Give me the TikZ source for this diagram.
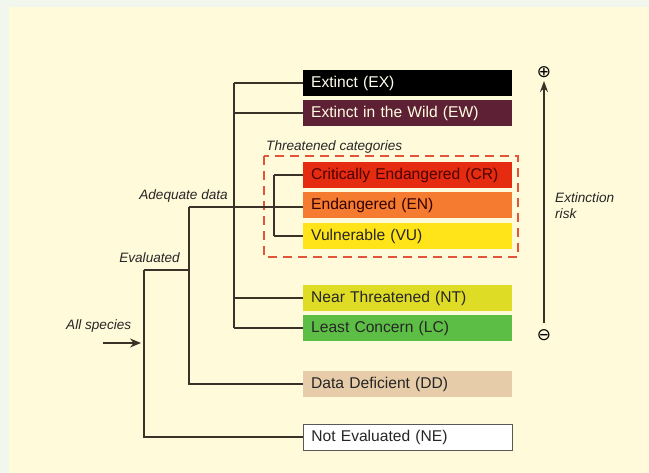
\documentclass[tikz,border=0pt]{standalone}
\usepackage{fontspec}
\setmainfont{Liberation Sans}
\newfontfamily\symfont{DejaVu Sans}
\usetikzlibrary{arrows.meta}
\definecolor{outerbg}{HTML}{F2F7EE}
\definecolor{innerbg}{HTML}{FFFADA}
\definecolor{linec}{HTML}{3A3226}
\definecolor{exc}{HTML}{000000}
\definecolor{ewc}{HTML}{5E2034}
\definecolor{crc}{HTML}{E52B10}
\definecolor{enc}{HTML}{F47B30}
\definecolor{vuc}{HTML}{FFE41A}
\definecolor{ntc}{HTML}{DFDC25}
\definecolor{lcc}{HTML}{5DBE45}
\definecolor{ddc}{HTML}{E6CCA8}
\definecolor{dashc}{HTML}{E0553C}
\begin{document}
\begin{tikzpicture}[x=1pt,y=-1pt,
  cat/.style={minimum width=209pt,minimum height=26pt,inner sep=0pt,
    text width=193pt,align=left,anchor=west,font=\fontsize{15.6}{17}\selectfont},
  lbl/.style={font=\itshape\fontsize{13.6}{15}\selectfont,text=black!85,inner sep=0pt},
  tree/.style={draw=linec,line width=1.4pt}]
  % background
  \fill[outerbg] (0,0) rectangle (649,473);
  \fill[innerbg] (9,7) rectangle (649,473);
  \useasboundingbox (0,0) rectangle (649,473);

  % category boxes
  \node[cat,fill=exc,text={white!92!yellow}] (EX) at (303,83) {Extinct (EX)};
  \node[cat,fill=ewc,text={white!88!yellow}] (EW) at (303,113) {Extinct in the Wild (EW)};
  \node[cat,fill=crc,text={black!70!red}] (CR) at (303,175) {Critically Endangered (CR)};
  \node[cat,fill=enc,text={black!80!red}] (EN) at (303,205) {Endangered (EN)};
  \node[cat,fill=vuc,text=black!85] (VU) at (303,236) {Vulnerable (VU)};
  \node[cat,fill=ntc,text=black!85] (NT) at (303,298) {Near Threatened (NT)};
  \node[cat,fill=lcc,text=black!85] (LC) at (303,328) {Least Concern (LC)};
  \node[cat,fill=ddc,text=black!85] (DD) at (303,384) {Data Deficient (DD)};
  \node[cat,fill=white,draw=black!65,line width=0.8pt,text=black!85] (NE) at (303,437) {Not Evaluated (NE)};

  % threatened group
  \draw[dashc,line width=1.3pt,dash pattern=on 9pt off 6pt] (264,156) rectangle (518,257);
  \node[lbl,anchor=base west] (thr) at (266,151) {Threatened categories};

  % branching points
  \coordinate (adeq) at (234,83);
  \coordinate (adeqb) at (234,328);
  \coordinate (thrt) at (274,175);
  \coordinate (thrb) at (274,236);
  \coordinate (evt) at (189,207);
  \coordinate (evb) at (189,384);
  \coordinate (allt) at (144,270);
  \coordinate (allb) at (144,437);

  % adequate data branch
  \draw[tree] (adeq) -- (adeqb);
  \draw[tree] (adeq) -- (EX.west);
  \draw[tree] (adeq |- EW.west) -- (EW.west);
  \draw[tree] (adeq |- NT.west) -- (NT.west);
  \draw[tree] (adeqb) -- (LC.west);
  \draw[tree] (thrt) -- (thrb);
  \draw[tree] (thrt) -- (CR.west);
  \draw[tree] (thrb) -- (VU.west);
  % evaluated branch
  \draw[tree] (evt) -- (EN.west |- evt);
  \draw[tree] (evt) -- (evb) -- (DD.west);
  % all species
  \draw[tree] (allt) -- (allt -| evt);
  \draw[tree] (allt) -- (allb) -- (NE.west);

  % branch labels
  \node[lbl,anchor=base east] (lad) at (228,200) {Adequate data};
  \node[lbl,anchor=base east] (lev) at (180,263) {Evaluated};
  \node[lbl,anchor=base west] (las) at (66,330) {All species};
  \coordinate (arrs) at (103,343);
  \draw[linec,line width=1.4pt,-{Stealth[length=11pt,width=9pt]}] (arrs) -- (141,343);

  % extinction risk axis
  \node[inner sep=0pt,font=\symfont\fontsize{17}{19}\selectfont] (plus) at (544,72) {⊕};
  \node[inner sep=0pt,font=\symfont\fontsize{17}{19}\selectfont] (minus) at (544,335) {⊖};
  \coordinate (ax) at (544,323);
  \draw[linec,line width=1.4pt,-{Stealth[length=11pt,width=8pt]}] (ax) -- (544,81);
  \node[lbl,anchor=base west] (risk) at (555,203) {Extinction};
  \node[lbl,anchor=base west] (risk2) at (555,219) {risk};
\end{tikzpicture}
\end{document}
